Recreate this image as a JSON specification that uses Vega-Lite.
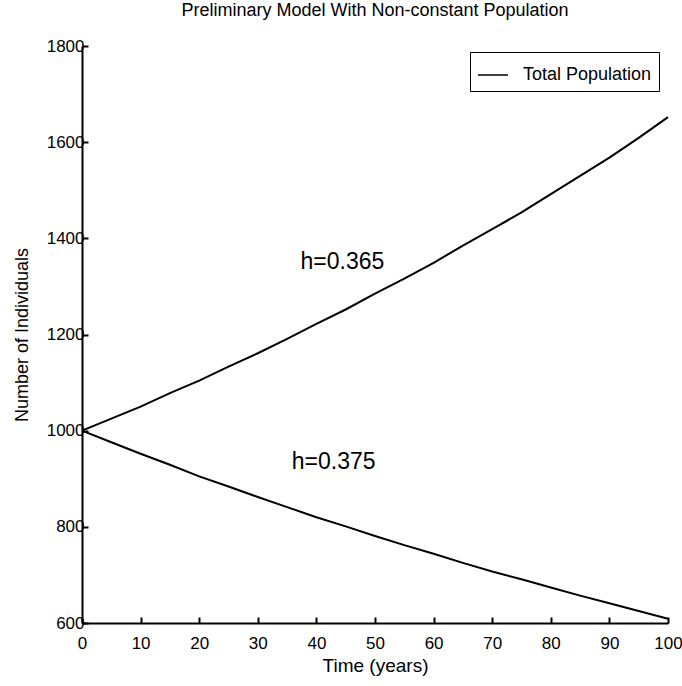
{
  "$schema": "https://vega.github.io/schema/vega-lite/v6.json",
  "width": 586,
  "height": 577,
  "autosize": {"type": "none"},
  "padding": {"left": 82, "top": 46, "right": 14, "bottom": 63},
  "background": "white",
  "title": {
    "text": "Preliminary Model With Non-constant Population",
    "font": "Liberation Sans",
    "fontSize": 18,
    "fontWeight": "normal",
    "color": "black",
    "anchor": "middle",
    "offset": 17
  },
  "config": {
    "view": {"stroke": null},
    "axis": {
      "domainColor": "black",
      "domainWidth": 2,
      "tickColor": "black",
      "tickWidth": 2,
      "grid": false,
      "labelColor": "black",
      "titleColor": "black",
      "labelFont": "Liberation Sans",
      "labelFontWeight": "normal",
      "labelFontSize": 17,
      "titleFont": "Liberation Sans",
      "titleFontWeight": "normal",
      "titleFontSize": 18
    }
  },
  "datasets": {
    "pop": [
      {"t": 0, "N": 1000, "h": "0.365", "series": "Total Population"},
      {"t": 5, "N": 1025, "h": "0.365", "series": "Total Population"},
      {"t": 10, "N": 1050, "h": "0.365", "series": "Total Population"},
      {"t": 15, "N": 1078, "h": "0.365", "series": "Total Population"},
      {"t": 20, "N": 1104, "h": "0.365", "series": "Total Population"},
      {"t": 25, "N": 1133, "h": "0.365", "series": "Total Population"},
      {"t": 30, "N": 1161, "h": "0.365", "series": "Total Population"},
      {"t": 35, "N": 1191, "h": "0.365", "series": "Total Population"},
      {"t": 40, "N": 1222, "h": "0.365", "series": "Total Population"},
      {"t": 45, "N": 1252, "h": "0.365", "series": "Total Population"},
      {"t": 50, "N": 1285, "h": "0.365", "series": "Total Population"},
      {"t": 55, "N": 1316, "h": "0.365", "series": "Total Population"},
      {"t": 60, "N": 1349, "h": "0.365", "series": "Total Population"},
      {"t": 65, "N": 1385, "h": "0.365", "series": "Total Population"},
      {"t": 70, "N": 1419, "h": "0.365", "series": "Total Population"},
      {"t": 75, "N": 1454, "h": "0.365", "series": "Total Population"},
      {"t": 80, "N": 1492, "h": "0.365", "series": "Total Population"},
      {"t": 85, "N": 1530, "h": "0.365", "series": "Total Population"},
      {"t": 90, "N": 1568, "h": "0.365", "series": "Total Population"},
      {"t": 95, "N": 1609, "h": "0.365", "series": "Total Population"},
      {"t": 100, "N": 1652, "h": "0.365", "series": "Total Population"},
      {"t": 0, "N": 1000, "h": "0.375", "series": "Total Population"},
      {"t": 5, "N": 976, "h": "0.375", "series": "Total Population"},
      {"t": 10, "N": 952, "h": "0.375", "series": "Total Population"},
      {"t": 15, "N": 929, "h": "0.375", "series": "Total Population"},
      {"t": 20, "N": 905, "h": "0.375", "series": "Total Population"},
      {"t": 25, "N": 884, "h": "0.375", "series": "Total Population"},
      {"t": 30, "N": 862, "h": "0.375", "series": "Total Population"},
      {"t": 35, "N": 841, "h": "0.375", "series": "Total Population"},
      {"t": 40, "N": 820, "h": "0.375", "series": "Total Population"},
      {"t": 45, "N": 801, "h": "0.375", "series": "Total Population"},
      {"t": 50, "N": 781, "h": "0.375", "series": "Total Population"},
      {"t": 55, "N": 762, "h": "0.375", "series": "Total Population"},
      {"t": 60, "N": 744, "h": "0.375", "series": "Total Population"},
      {"t": 65, "N": 725, "h": "0.375", "series": "Total Population"},
      {"t": 70, "N": 707, "h": "0.375", "series": "Total Population"},
      {"t": 75, "N": 691, "h": "0.375", "series": "Total Population"},
      {"t": 80, "N": 674, "h": "0.375", "series": "Total Population"},
      {"t": 85, "N": 657, "h": "0.375", "series": "Total Population"},
      {"t": 90, "N": 641, "h": "0.375", "series": "Total Population"},
      {"t": 95, "N": 625, "h": "0.375", "series": "Total Population"},
      {"t": 100, "N": 609, "h": "0.375", "series": "Total Population"}
    ],
    "labels": [
      {"t": 37.3, "N": 1350, "label": "h=0.365"},
      {"t": 35.8, "N": 935, "label": "h=0.375"}
    ]
  },
  "layer": [
    {
      "data": {"name": "pop"},
      "mark": {"type": "line", "strokeWidth": 2},
      "encoding": {
        "x": {
          "field": "t",
          "type": "quantitative",
          "scale": {"domain": [0, 100], "nice": false},
          "axis": {
            "title": "Time (years)",
            "titleFontSize": 19,
            "values": [0, 10, 20, 30, 40, 50, 60, 70, 80, 90, 100],
            "format": "d",
            "tickSize": -6,
            "labelPadding": 18,
            "titlePadding": 5,
            "labelFlush": false
          }
        },
        "y": {
          "field": "N",
          "type": "quantitative",
          "scale": {"domain": [600, 1800], "nice": false, "zero": false},
          "axis": {
            "title": "Number of Individuals",
            "values": [600, 800, 1000, 1200, 1400, 1600, 1800],
            "format": "d",
            "tickSize": -6,
            "labelPadding": 4,
            "titlePadding": 15,
            "labelFlush": false
          }
        },
        "detail": {"field": "h"},
        "color": {
          "field": "series",
          "type": "nominal",
          "scale": {"range": ["black"]},
          "legend": {
            "title": null,
            "orient": "none",
            "legendX": 388,
            "legendY": 6,
            "strokeColor": "black",
            "fillColor": "white",
            "padding": 7,
            "symbolType": "stroke",
            "symbolSize": 900,
            "symbolStrokeWidth": 1.5,
            "labelFont": "Liberation Sans",
            "labelFontSize": 18,
            "labelColor": "black",
            "labelOffset": 14
          }
        }
      }
    },
    {
      "data": {"name": "labels"},
      "mark": {"type": "text", "align": "left", "baseline": "middle", "font": "Liberation Sans", "fontSize": 23, "color": "black"},
      "encoding": {
        "x": {"field": "t", "type": "quantitative"},
        "y": {"field": "N", "type": "quantitative"},
        "text": {"field": "label"}
      }
    }
  ]
}
